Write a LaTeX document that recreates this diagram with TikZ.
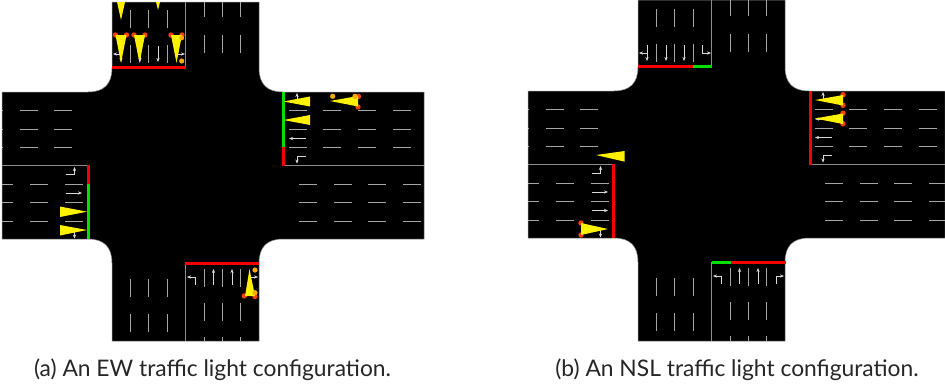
\documentclass[tikz,border=0pt]{standalone}
\usepackage{fontspec}
\usetikzlibrary{arrows.meta}
\setmainfont{Lato}
\definecolor{sigred}{RGB}{245,0,0}
\definecolor{siggreen}{RGB}{0,225,0}
\definecolor{dotred}{RGB}{250,65,0}
\definecolor{dotamb}{RGB}{250,170,0}
\tikzset{
  laneline/.style={white!65!black, line width=0.7pt},
  divider/.style={white!55!black, line width=0.8pt},
  turnarrow/.style={white!85!black, line width=0.5pt, -{Stealth[length=4pt,width=3.2pt]}},
  redbar/.style={sigred, line width=3pt},
  greenbar/.style={siggreen, line width=3pt},
  beam/.style={fill=yellow},
  reddot/.style={fill=dotred},
  ambdot/.style={fill=dotamb},
  captext/.style={font=\fontsize{22.8}{26}\selectfont, text=black!85, inner sep=0pt}
}
% the road cross with its markings: top, bottom, right end
\newcommand{\crossroad}[3]{%
  \def\roadoutline{(112,#1) -- (112,68) .. controls (112,84) and (104,92) .. (88,92)
    -- (2,92) -- (2,239) -- (88,239) .. controls (104,239) and (112,247) .. (112,263)
    -- (112,#2) -- (259,#2) -- (259,263) .. controls (259,247) and (267,239) .. (283,239)
    -- (#3,239) -- (#3,92) -- (283,92) .. controls (267,92) and (259,84) .. (259,68)
    -- (259,#1) -- cycle}
  \fill[black] \roadoutline;
  \draw[black!45, line width=0.5pt] \roadoutline;
  \begin{scope}
  \clip \roadoutline;
  % lane dashes
  \foreach \y in {110,129,147} {
    \foreach \x in {-15,20,54} \draw[laneline] (\x,\y) -- +(18,0);
    \foreach \x in {289,323,358,393} \draw[laneline] (\x,\y) -- +(17.5,0);
  }
  \foreach \y in {184,202.5,221} {
    \foreach \x in {-4.5,30,65} \draw[laneline] (\x,\y) -- +(17.5,0);
    \foreach \x in {299,334,368,403} \draw[laneline] (\x,\y) -- +(17.5,0);
  }
  \foreach \x in {130,148.7,167.5} {
    \foreach \y in {10,45} \draw[laneline] (\x,\y) -- +(0,17.5);
    \foreach \y in {279,314} \draw[laneline] (\x,\y) -- +(0,17.5);
  }
  \foreach \x in {204,222.5,240.7} {
    \foreach \y in {-1,35} \draw[laneline] (\x,\y) -- +(0,17.5);
    \foreach \y in {269,303,337} \draw[laneline] (\x,\y) -- +(0,17.5);
  }
  % centre lines
  \draw[divider] (185.5,#1) -- (185.5,68);
  \draw[divider] (185.5,263) -- (185.5,#2);
  \draw[divider] (2,165) -- (88,165);
  \draw[divider] (283,165) -- (#3,165);
  \end{scope}
  % north approach
  \foreach \x in {121,140,158} \draw[turnarrow] (\x,46) -- (\x,62);
  \draw[turnarrow] (121,54) -- (113,54);
  \draw[turnarrow] (176.7,46) -- (176.7,54) -- (185,54);
  % east approach
  \draw[turnarrow] (306,100) -- (297,100) -- (297,93);
  \foreach \y in {120,138.5} \draw[turnarrow] (306,\y) -- (289,\y);
  \draw[turnarrow] (306,156) -- (297,156) -- (297,163.5);
  % west approach
  \draw[turnarrow] (66,174.5) -- (74.5,174.5) -- (74.5,167);
  \foreach \y in {193,211.5} \draw[turnarrow] (66,\y) -- (82,\y);
  \draw[turnarrow] (66,230) -- (74.5,230) -- (74.5,238.5);
  % south approach
  \draw[turnarrow] (195.5,285) -- (195.5,277) -- (187,277);
  \foreach \x in {213.5,232} \draw[turnarrow] (\x,285) -- (\x,269);
  \draw[turnarrow] (250,285) -- (250,277) -- (258,277);
}
\begin{document}
\begin{tikzpicture}[x=1pt, y=-1pt]
\useasboundingbox (0,0) rectangle (945,389);

\crossroad{2}{341}{424}
\begin{scope}[shift={(526,-1)}]
\crossroad{1}{342}{419}
\end{scope}

% EW signals
\draw[redbar] (112,67.5) -- (186,67.5);
\draw[greenbar] (283,92) -- (283,147);
\draw[redbar] (283,147) -- (283,165.5);
\draw[redbar] (88,165) -- (88,184);
\draw[greenbar] (88,184) -- (88,239);
\draw[redbar] (185,263.5) -- (259,263.5);

% EW beams, north
\fill[beam] (117,2) -- (125,2) -- (121,20) -- cycle;
\fill[beam] (156,2) -- (160,2) -- (158,10) -- cycle;
\foreach \x in {121,139.5,176.5} {
  \fill[reddot] (\x-5.5,35) circle (2.7);
  \fill[reddot] (\x+5.5,35) circle (2.7);
  \fill[beam] (\x-5.5,35) -- (\x+5.5,35) -- (\x,63) -- cycle;
}
\fill[ambdot] (181.7,38) circle (2.4);
\fill[ambdot] (181.7,61) circle (2.6);

% EW beams, east
\fill[beam] (283.5,101.5) -- (310,96.5) -- (310,106.5) -- cycle;
\fill[beam] (283.5,120) -- (310,115) -- (310,125) -- cycle;
\fill[reddot] (358.5,96.5) circle (2.7);
\fill[reddot] (358,107) circle (2.7);
\fill[beam] (330,101) -- (358,96) -- (358,106.5) -- cycle;
\fill[ambdot] (332.7,96.3) circle (2.6);
\fill[ambdot] (355,96.3) circle (2.6);

% EW beams, west
\fill[beam] (87,211.7) -- (60,206.5) -- (60,217) -- cycle;
\fill[beam] (87,230) -- (60,225) -- (60,235.5) -- cycle;

% EW beams, south
\fill[reddot] (244.3,296) circle (2.7);
\fill[reddot] (255,296.5) circle (2.7);
\fill[beam] (249.5,269) -- (245,296) -- (255,296) -- cycle;
\fill[ambdot] (255,270) circle (2.6);
\fill[ambdot] (255,292.7) circle (2.6);

% NSL signals
\draw[redbar] (638,66) -- (693,66);
\draw[greenbar] (693,66) -- (712,66);
\draw[redbar] (810.7,91) -- (810.7,165);
\draw[redbar] (613.7,164) -- (613.7,238);
\draw[greenbar] (711.5,262.3) -- (731,262.3);
\draw[redbar] (731,262.3) -- (786,262.3);

% NSL beams
\fill[beam] (596,155) -- (624.7,151) -- (624.7,161.7) -- cycle;
\foreach \y in {100,118.5} {
  \fill[reddot] (843,\y-5.3) circle (2.7);
  \fill[reddot] (843,\y+5.3) circle (2.7);
  \fill[beam] (815,\y) -- (843,\y-5) -- (843,\y+5.5) -- cycle;
}
\fill[reddot] (581,223) circle (2.7);
\fill[reddot] (581,235) circle (2.7);
\fill[beam] (608,229) -- (581,223) -- (581,235) -- cycle;

\node[captext] (capa) at (212.5,370) {(a) An EW traffic light configuration.};
\node[captext] (capb) at (737,370) {(b) An NSL traffic light configuration.};
\end{tikzpicture}
\end{document}
